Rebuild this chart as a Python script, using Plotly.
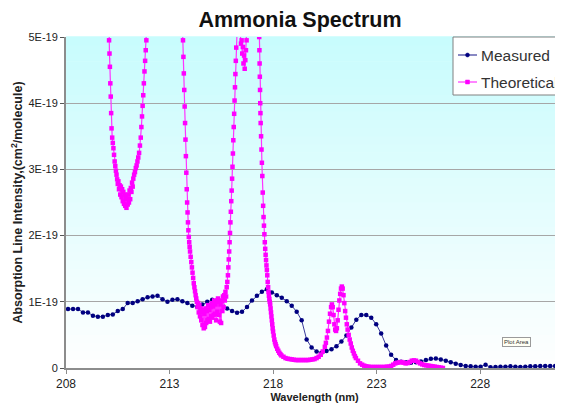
import numpy as np
import plotly.graph_objects as go

# ---------------- data (intensity in units of 1E-19 cm^2/molecule) ----------------
measured_wavelength = [
    208.10, 208.34, 208.58, 208.82, 209.06, 209.30, 209.54, 209.78, 210.02, 210.26,
    210.50, 210.74, 210.98, 211.22, 211.46, 211.70, 211.94, 212.18, 212.42, 212.66,
    212.90, 213.14, 213.38, 213.62, 213.86, 214.10, 214.34, 214.58, 214.82, 215.06,
    215.30, 215.54, 215.78, 216.02, 216.26, 216.50, 216.74, 216.98, 217.22, 217.46,
    217.70, 217.94, 218.18, 218.42, 218.66, 218.90, 219.14, 219.38, 219.62, 219.86,
    220.10, 220.34, 220.58, 220.82, 221.06, 221.30, 221.54, 221.78, 222.02, 222.26,
    222.50, 222.74, 222.98, 223.22, 223.46, 223.70, 223.94, 224.18, 224.42, 224.66,
    224.90, 225.14, 225.38, 225.62, 225.86, 226.10, 226.34, 226.58, 226.82, 227.06,
    227.30, 227.54, 227.78, 228.02, 228.26, 228.50, 228.74, 228.98, 229.22, 229.46,
    229.70, 229.94, 230.18, 230.42, 230.66, 230.90, 231.14, 231.38, 231.62, 231.86,
]
measured_intensity = [
    0.89, 0.89, 0.89, 0.84, 0.84, 0.79, 0.775, 0.775, 0.80, 0.81,
    0.86, 0.89, 0.98, 0.98, 1.01, 1.04, 1.07, 1.08, 1.09, 1.04,
    1.00, 1.03, 1.04, 1.01, 0.98, 0.94, 0.92, 0.96, 1.00, 1.03,
    1.02, 0.96, 0.90, 0.86, 0.835, 0.85, 0.92, 1.02, 1.09, 1.15,
    1.19, 1.14, 1.10, 1.06, 1.01, 0.94, 0.85, 0.72, 0.43, 0.31,
    0.25, 0.23, 0.255, 0.285, 0.33, 0.40, 0.49, 0.61, 0.73, 0.80,
    0.80, 0.76, 0.66, 0.52, 0.34, 0.20, 0.12, 0.095, 0.085, 0.08,
    0.085, 0.10, 0.12, 0.14, 0.145, 0.13, 0.11, 0.085, 0.065, 0.045,
    0.03, 0.025, 0.02, 0.02, 0.05, 0.01, 0.015, 0.02, 0.02, 0.025,
    0.02, 0.015, 0.02, 0.025, 0.025, 0.03, 0.03, 0.03, 0.03, 0.03,
]

theo_wavelength = [
    # band near 211 nm
    210.00, 210.05, 210.08, 210.10, 210.12, 210.14, 210.16, 210.18, 210.20,
    210.23, 210.26, 210.29, 210.32, 210.35, 210.38, 210.41, 210.44, 210.47, 210.50,
    210.53, 210.56, 210.59, 210.62, 210.65, 210.68, 210.71, 210.74, 210.77, 210.80,
    210.83, 210.86, 210.89, 210.92, 210.95, 210.98,
    211.01, 211.04, 211.07, 211.10, 211.13, 211.16, 211.19, 211.22, 211.25,
    211.29, 211.33, 211.37, 211.41, 211.45, 211.49, 211.53, 211.57, 211.61,
    211.64, 211.67, 211.70, 211.73, 211.76, 211.79, 211.82, 211.85, 211.88,
    211.92, 212.00,
    # band near 215 nm
    213.55, 213.62, 213.65, 213.67, 213.69, 213.71, 213.73, 213.75, 213.77, 213.79,
    213.81, 213.83, 213.85, 213.87, 213.89, 213.91, 213.93, 213.95, 213.97, 213.99,
    214.02, 214.05, 214.08, 214.11, 214.14, 214.17, 214.20, 214.23, 214.26, 214.29, 214.32,
    214.35, 214.38, 214.41, 214.44, 214.47, 214.50, 214.53, 214.56, 214.59, 214.62,
    214.65, 214.68, 214.71, 214.74, 214.77, 214.80, 214.83, 214.86, 214.89, 214.92,
    214.95, 214.98, 215.01, 215.04, 215.07, 215.10, 215.13, 215.16, 215.19, 215.22,
    215.25, 215.28, 215.31, 215.34, 215.37, 215.40, 215.43, 215.46, 215.49, 215.52,
    215.55, 215.58, 215.61, 215.64, 215.67, 215.70, 215.73, 215.76, 215.79,
    215.82, 215.84, 215.86, 215.88, 215.90, 215.92, 215.94, 215.96, 215.98, 216.00,
    216.02, 216.04, 216.06, 216.08, 216.10, 216.12, 216.14, 216.16, 216.18, 216.20,
    216.22, 216.24, 216.28,
    # small dip near 216.6 nm
    216.36, 216.42, 216.45, 216.48, 216.51, 216.54, 216.57, 216.60, 216.63, 216.66,
    216.69, 216.72, 216.76, 216.85,
    # falling edge and tail
    217.30, 217.33, 217.34, 217.35, 217.36, 217.37, 217.38, 217.39, 217.40,
    217.42, 217.44, 217.46, 217.48, 217.50, 217.52, 217.54, 217.56, 217.58, 217.60,
    217.62, 217.64, 217.66, 217.68, 217.70, 217.72, 217.74, 217.76, 217.78, 217.80,
    217.82, 217.84, 217.86, 217.88, 217.90, 217.92, 217.94, 217.96, 217.98, 218.00,
    218.03, 218.06, 218.09, 218.12, 218.15,
    218.20, 218.25, 218.30, 218.35, 218.40,
    218.50, 218.60, 218.70, 218.80, 218.90, 219.00, 219.10, 219.20, 219.30, 219.40,
    219.50, 219.60, 219.70, 219.80, 219.90, 220.00, 220.10, 220.20, 220.30, 220.40,
    220.50, 220.55, 220.60, 220.65, 220.70, 220.75, 220.80,
    220.84, 220.88, 220.92, 220.96, 221.00, 221.04, 221.08, 221.12, 221.16, 221.20,
    221.24, 221.28, 221.32, 221.36, 221.40, 221.44, 221.48, 221.52, 221.56, 221.60,
    221.65, 221.70, 221.75, 221.80, 221.85, 221.90, 221.95, 222.00,
    222.10, 222.20, 222.30, 222.40, 222.50, 222.60, 222.70, 222.80, 222.90, 223.00,
    223.10, 223.20, 223.30, 223.40, 223.50, 223.60, 223.70, 223.80, 223.90, 224.00,
    224.10, 224.20, 224.30, 224.40, 224.50, 224.60, 224.70, 224.80, 224.90, 225.00,
    225.10, 225.20, 225.30, 225.40, 225.50, 225.60, 225.70, 225.80, 225.90, 226.00,
    226.10, 226.20,
]
theo_intensity = [
    # band near 211 nm
    6.5, 5.3, 4.95, 4.75, 4.55, 4.30, 4.10, 3.85, 3.62,
    3.48, 3.40, 3.32, 3.22, 3.12, 3.05, 2.98, 2.92, 2.85, 2.78,
    2.82, 2.70, 2.76, 2.62, 2.74, 2.58, 2.70, 2.52, 2.66, 2.48,
    2.62, 2.45, 2.58, 2.42, 2.55, 2.47,
    2.62, 2.50, 2.68, 2.55, 2.72, 2.66, 2.80, 2.74, 2.86,
    2.92, 2.96, 3.02, 3.06, 3.12, 3.18, 3.25, 3.36, 3.48,
    3.64, 3.80, 3.96, 4.12, 4.30, 4.48, 4.64, 4.80, 4.95,
    5.3, 6.5,
    # band near 215 nm
    6.5, 5.2, 4.95, 4.7, 4.45, 4.2, 3.95, 3.7, 3.45, 3.2,
    2.95, 2.7, 2.5, 2.35, 2.2, 2.08, 1.98, 1.9, 1.83, 1.76,
    1.68, 1.60, 1.52, 1.44, 1.36, 1.28, 1.22, 1.16, 1.10, 1.05, 1.00,
    0.92, 0.98, 0.84, 0.95, 0.78, 0.90, 0.72, 0.88, 0.65, 0.85,
    0.60, 0.82, 0.62, 0.90, 0.68, 0.86, 0.72, 0.95, 0.74, 0.88,
    0.70, 0.92, 0.78, 0.98, 0.76, 0.93, 0.80, 1.02, 0.82, 0.96,
    0.72, 1.00, 0.85, 1.05, 0.80, 1.00, 0.70, 0.96, 0.68, 1.02,
    0.86, 1.08, 0.92, 1.10, 1.02, 1.15, 1.08, 1.22, 1.30,
    1.40, 1.52, 1.64, 1.76, 1.90, 2.04, 2.20, 2.36, 2.52, 2.68,
    2.86, 3.04, 3.24, 3.44, 3.64, 3.84, 4.04, 4.24, 4.44, 4.64,
    4.84, 5.04, 5.6,
    # small dip near 216.6 nm
    6.0, 5.05, 4.90, 4.95, 4.75, 4.85, 4.60, 4.72, 4.52, 4.65,
    4.80, 4.95, 5.2, 6.0,
    # falling edge and tail
    5.6, 5.0, 4.8, 4.6, 4.4, 4.2, 4.0, 3.85, 3.7,
    3.5, 3.3, 3.1, 2.9, 2.65, 2.45, 2.28, 2.15, 2.02, 1.90,
    1.80, 1.71, 1.63, 1.55, 1.48, 1.40, 1.30, 1.22, 1.15, 1.09,
    1.04, 1.00, 0.96, 0.90, 0.84, 0.78, 0.72, 0.66, 0.60, 0.55,
    0.49, 0.43, 0.39, 0.36, 0.33,
    0.29, 0.26, 0.23, 0.21, 0.19,
    0.17, 0.15, 0.14, 0.135, 0.13, 0.125, 0.12, 0.12, 0.12, 0.12,
    0.12, 0.12, 0.12, 0.125, 0.13, 0.135, 0.15, 0.17, 0.20, 0.25,
    0.32, 0.38, 0.46, 0.56, 0.70, 0.82, 0.92,
    0.96, 0.92, 0.80, 0.66, 0.58, 0.56, 0.60, 0.72, 0.88, 1.02,
    1.12, 1.20, 1.23, 1.20, 1.10, 0.98, 0.86, 0.76, 0.66, 0.58,
    0.50, 0.43, 0.37, 0.31, 0.26, 0.22, 0.18, 0.15,
    0.11, 0.07, 0.05, 0.035, 0.025, 0.02, 0.015, 0.015, 0.015, 0.015,
    0.015, 0.015, 0.015, 0.015, 0.02, 0.02, 0.03, 0.05, 0.07, 0.08,
    0.085, 0.09, 0.08, 0.07, 0.075, 0.09, 0.11, 0.115, 0.11, 0.09,
    0.07, 0.055, 0.045, 0.04, 0.035, 0.03, 0.025, 0.02, 0.015, 0.01,
    0.005, 0.0,
]
assert len(theo_wavelength) == len(theo_intensity)
assert len(measured_wavelength) == len(measured_intensity)

x_ticks = [208, 213, 218, 223, 228]
y_tick_values = [0, 1, 2, 3, 4, 5]
y_tick_labels = ["0", "1E-19", "2E-19", "3E-19", "4E-19", "5E-19"]
series_names = ["Measured", "Theoretical"]
UNIT = 1e-19

MEAS_LINE, MEAS_MARK = "#3a3a9a", "#000080"
THEO_LINE, THEO_MARK = "#ff33ff", "#ff00ff"

# ---------------- figure ----------------
fig = go.Figure()

fig.add_trace(go.Scatter(
    x=measured_wavelength, y=np.array(measured_intensity) * UNIT,
    mode="lines+markers", name=series_names[0], showlegend=False,
    line=dict(color=MEAS_LINE, width=1),
    marker=dict(color=MEAS_MARK, size=4.5, symbol="circle"),
))
fig.add_trace(go.Scatter(
    x=theo_wavelength, y=np.array(theo_intensity) * UNIT,
    mode="lines+markers", name=series_names[1], showlegend=False,
    line=dict(color=THEO_LINE, width=1.2),
    marker=dict(color=THEO_MARK, size=4.5, symbol="square"),
))

# page-pixel helpers for the plot area (page offset of 8 px from body margin)
PL, PR, PT, PB = 66, 563, 37, 368


def px(x):
    return (x - PL) / (PR - PL)


def py(y):
    return (PB - y) / (PB - PT)


# vertical gradient background of the plot area (cyan top -> white bottom)
n_bands = 40
top_rgb = np.array([200, 252, 253])
bot_rgb = np.array([255, 255, 255])
shapes = []
for i in range(n_bands):
    t = (i + 0.5) / n_bands
    c = bot_rgb + (top_rgb - bot_rgb) * t
    shapes.append(dict(
        type="rect", xref="x domain", yref="y domain",
        x0=0, x1=1, y0=i / n_bands, y1=(i + 1) / n_bands + 0.002,
        fillcolor="rgb(%d,%d,%d)" % tuple(c.astype(int)),
        line=dict(width=0), layer="below",
    ))

# legend box (Excel style, running off the right edge)
shapes.append(dict(type="rect", xref="paper", yref="paper",
                   x0=px(453), x1=px(575), y0=py(95), y1=py(37),
                   fillcolor="white", line=dict(color="#808080", width=1), layer="above"))
legend_rows = [(55, MEAS_LINE, MEAS_MARK, "circle"), (82, THEO_LINE, THEO_MARK, "rect")]
for row_y, lc, mc, kind in legend_rows:
    shapes.append(dict(type="line", xref="paper", yref="paper",
                       x0=px(458), x1=px(477), y0=py(row_y), y1=py(row_y),
                       line=dict(color=lc, width=1.2), layer="above"))
    shapes.append(dict(type="circle" if kind == "circle" else "rect",
                       xref="paper", yref="paper",
                       x0=px(465.5), x1=px(469.5), y0=py(row_y + 2), y1=py(row_y - 2),
                       fillcolor=mc, line=dict(color=mc, width=0.5), layer="above"))

font_family = "Liberation Sans, Arial, sans-serif"

annotations = [dict(
    text="Plot Area", xref="paper", yref="paper",
    x=px(531), y=py(347), showarrow=False,
    font=dict(size=6, color="#333333", family=font_family),
    bgcolor="#fffff4", bordercolor="#9a9a9a", borderwidth=1, borderpad=1,
)]
for (row_y, _, _, _), name in zip(legend_rows, series_names):
    annotations.append(dict(
        text=name, xref="paper", yref="paper", x=px(479), y=py(row_y),
        xanchor="left", yanchor="middle", showarrow=False,
        font=dict(size=15.5, color="#333333", family=font_family),
    ))

FIG_W, FIG_H = 555, 401  # page is offset by 8 px (body margin)

fig.update_layout(
    width=FIG_W, height=FIG_H,
    margin=dict(l=PL - 8, r=0, t=PT - 8, b=FIG_H - (PB - 8), autoexpand=False),
    paper_bgcolor="white",
    plot_bgcolor="rgba(0,0,0,0)",
    shapes=shapes,
    annotations=annotations,
    showlegend=False,
    font=dict(family=font_family, color="#222222"),
    title=dict(
        text="<b>Ammonia Spectrum</b>",
        x=px(300), xref="paper", xanchor="center",
        y=1 - 11 / FIG_H, yref="container", yanchor="middle",
        font=dict(size=21.5, color="#111111", family=font_family),
    ),
    xaxis=dict(
        range=[208, 232], tickmode="array", tickvals=x_ticks,
        ticktext=[str(v) for v in x_ticks],
        showgrid=False, zeroline=False,
        showline=True, linecolor="#8c8c8c", linewidth=2,
        ticks="outside", ticklen=4, tickcolor="#8c8c8c",
        tickfont=dict(size=12, color="#222222"),
        title=dict(text="<b>Wavelength (nm)</b>", font=dict(size=11, color="#222222"), standoff=3),
    ),
    yaxis=dict(
        range=[0, 5 * UNIT], tickmode="array",
        tickvals=[v * UNIT for v in y_tick_values], ticktext=y_tick_labels,
        showgrid=True, gridcolor="#a6a6a6", gridwidth=1, zeroline=False,
        showline=True, linecolor="#8c8c8c", linewidth=2,
        ticks="outside", ticklen=4, tickcolor="#555555",
        tickfont=dict(size=11, color="#222222"),
        title=dict(text="<b>Absorption Line Intensity,(cm<sup>2</sup>/molecule)</b>",
                   font=dict(size=12.5, color="#222222"), standoff=3),
    ),
)

fig.write_html("out.html")
